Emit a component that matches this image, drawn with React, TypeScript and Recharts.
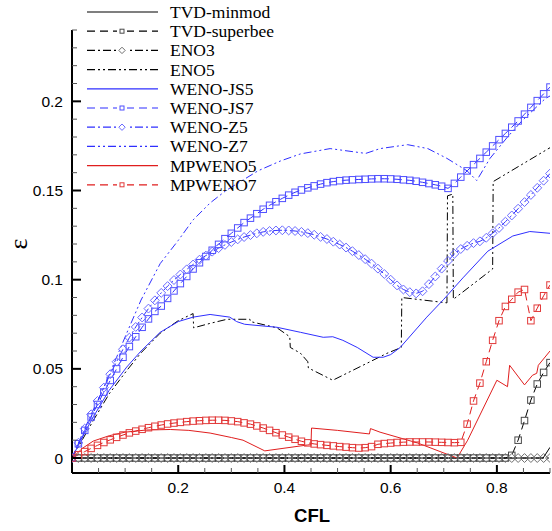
import React from 'react';
import { LineChart, Line, XAxis, YAxis, Legend, Label } from 'recharts';

// CFL grid used by the series drawn with symbols (step 0.012)
const cflGrid = [
  0, 0.012, 0.024, 0.036, 0.048, 0.06, 0.072, 0.084, 0.096, 0.108,
  0.12, 0.132, 0.144, 0.156, 0.168, 0.18, 0.192, 0.204, 0.216, 0.228,
  0.24, 0.252, 0.264, 0.276, 0.288, 0.3, 0.312, 0.324, 0.336, 0.348,
  0.36, 0.372, 0.384, 0.396, 0.408, 0.42, 0.432, 0.444, 0.456, 0.468,
  0.48, 0.492, 0.504, 0.516, 0.528, 0.54, 0.552, 0.564, 0.576, 0.588,
  0.6, 0.612, 0.624, 0.636, 0.648, 0.66, 0.672, 0.684, 0.696, 0.708,
  0.72, 0.732, 0.744, 0.756, 0.768, 0.78, 0.792, 0.804, 0.816, 0.828,
  0.84, 0.852, 0.864, 0.876, 0.888, 0.9,
];

const tvdSuperbee = [
  0, 0, 0, 0, 0, 0, 0, 0, 0, 0,
  0, 0, 0, 0, 0, 0, 0, 0, 0, 0,
  0, 0, 0, 0, 0, 0, 0, 0, 0, 0,
  0, 0, 0, 0, 0, 0, 0, 0, 0, 0,
  0, 0, 0, 0, 0, 0, 0, 0, 0, 0,
  0, 0, 0, 0, 0, 0, 0, 0, 0, 0,
  0, 0, 0, 0, 0, 0, 0, 0, 0, 0.0015,
  0.01, 0.021, 0.0325, 0.0415, 0.048, 0.0535,
];

const eno3 = [
  0, 0, 0, 0, 0, 0, 0, 0, 0, 0,
  0, 0, 0, 0, 0, 0, 0, 0, 0, 0,
  0, 0, 0, 0, 0, 0, 0, 0, 0, 0,
  0, 0, 0, 0, 0, 0, 0, 0, 0, 0,
  0, 0, 0, 0, 0, 0, 0, 0, 0, 0,
  0, 0, 0, 0, 0, 0, 0, 0, 0, 0,
  0, 0, 0, 0, 0, 0, 0, 0, 0, 0,
  0, 0, 0, 0, 0, 0,
];

const wenoJs7 = [
  0, 0.008, 0.0155, 0.023, 0.03, 0.037, 0.0435, 0.05, 0.0565, 0.0625,
  0.068, 0.0733, 0.078, 0.0822, 0.0852, 0.0895, 0.0937, 0.0978, 0.1018, 0.106,
  0.1095, 0.113, 0.1165, 0.1198, 0.123, 0.126, 0.129, 0.132, 0.1345, 0.137,
  0.1395, 0.1417, 0.1437, 0.1456, 0.1474, 0.149, 0.1503, 0.1515, 0.1526, 0.1536,
  0.1544, 0.155, 0.1555, 0.1558, 0.156, 0.1562, 0.1563, 0.1565, 0.1566, 0.1566,
  0.1565, 0.1563, 0.156, 0.1557, 0.1552, 0.1546, 0.1539, 0.1532, 0.1524, 0.1512,
  0.154, 0.1575, 0.161, 0.1645, 0.168, 0.1715, 0.175, 0.1785, 0.182, 0.1855,
  0.189, 0.1928, 0.1966, 0.2004, 0.2042, 0.208,
];

const wenoZ5 = [
  0, 0.0085, 0.0165, 0.0245, 0.032, 0.0395, 0.047, 0.054, 0.061, 0.0675,
  0.0735, 0.0788, 0.0838, 0.0884, 0.0926, 0.0964, 0.0998, 0.1029, 0.1058, 0.1085,
  0.1112, 0.1135, 0.1157, 0.1177, 0.1195, 0.1211, 0.1226, 0.1239, 0.125, 0.126,
  0.1268, 0.1273, 0.1276, 0.1277, 0.1276, 0.1273, 0.1268, 0.1261, 0.1252, 0.124,
  0.1228, 0.1213, 0.1197, 0.118, 0.116, 0.1138, 0.1115, 0.109, 0.1062, 0.1032,
  0.1, 0.0968, 0.0945, 0.093, 0.0923, 0.0935, 0.0975, 0.1018, 0.1062, 0.1105,
  0.1145, 0.1172, 0.119, 0.1205, 0.1215, 0.1235, 0.126, 0.129, 0.1325, 0.136,
  0.1398, 0.1435, 0.1475, 0.1515, 0.1555, 0.1595,
];

const mpWeno7 = [
  0, 0.0018, 0.0036, 0.0054, 0.0071, 0.0087, 0.0102, 0.0116, 0.0129, 0.0141,
  0.0151, 0.0161, 0.017, 0.0178, 0.0185, 0.0191, 0.0196, 0.02, 0.0204, 0.0207,
  0.0209, 0.0211, 0.0212, 0.0212, 0.0211, 0.0208, 0.0204, 0.0197, 0.019, 0.018,
  0.0168, 0.0155, 0.0142, 0.0129, 0.0117, 0.0105, 0.0094, 0.0085, 0.0079, 0.0075,
  0.0071, 0.0068, 0.0064, 0.0061, 0.0058, 0.0056, 0.0058, 0.0064, 0.0077, 0.0081,
  0.0084, 0.0087, 0.0089, 0.009, 0.009, 0.009, 0.009, 0.0089, 0.0088, 0.0087,
  0.0086, 0.0088, 0.019, 0.032, 0.042, 0.054, 0.066, 0.077, 0.085, 0.089,
  0.093, 0.0945, 0.077, 0.084, 0.091, 0.097,
];

// series drawn as plain lines, read at their own breakpoints
const tvdMinmodCfl = [0, 0.887, 0.9];
const tvdMinmodEps = [0, 0, 0.006];

const eno5Cfl = [
  0, 0.02, 0.04, 0.07, 0.103, 0.13, 0.166, 0.2, 0.228, 0.229, 0.26, 0.292,
  0.335, 0.336, 0.386, 0.41, 0.411, 0.43, 0.444, 0.445, 0.491, 0.593, 0.62,
  0.621, 0.706, 0.707, 0.717, 0.718, 0.792, 0.793, 0.9,
];
const eno5Eps = [
  0, 0.0105, 0.021, 0.036, 0.049, 0.059, 0.07, 0.077, 0.081, 0.073, 0.0755, 0.0778,
  0.0778, 0.0765, 0.073, 0.068, 0.062, 0.0588, 0.054, 0.0505, 0.0436, 0.0587, 0.062,
  0.09, 0.087, 0.147, 0.148, 0.089, 0.106, 0.155, 0.174,
];

const wenoJs5Cfl = [
  0, 0.02, 0.04, 0.07, 0.103, 0.13, 0.166, 0.2, 0.228, 0.26, 0.297, 0.31, 0.325,
  0.386, 0.43, 0.473, 0.491, 0.51, 0.537, 0.567, 0.586, 0.6, 0.618, 0.668, 0.7,
  0.736, 0.783, 0.83, 0.862, 0.9,
];
const wenoJs5Eps = [
  0, 0.012, 0.023, 0.038, 0.051, 0.06, 0.0705, 0.0765, 0.079, 0.0805, 0.079, 0.0765, 0.075,
  0.0733, 0.0705, 0.0677, 0.068, 0.066, 0.062, 0.0565, 0.0565, 0.058, 0.062, 0.079, 0.089,
  0.101, 0.116, 0.1245, 0.127, 0.126,
];

const wenoZ7Cfl = [
  0, 0.02, 0.04, 0.072, 0.103, 0.13, 0.166, 0.2, 0.228, 0.26, 0.29, 0.32, 0.35,
  0.392, 0.43, 0.486, 0.553, 0.58, 0.632, 0.67, 0.706, 0.744, 0.762, 0.787, 0.82,
  0.847, 0.891, 0.9,
];
const wenoZ7Eps = [
  0, 0.012, 0.026, 0.048, 0.07, 0.0886, 0.109, 0.122, 0.1335, 0.143, 0.15, 0.1555, 0.161,
  0.1665, 0.1705, 0.1735, 0.1708, 0.1735, 0.1757, 0.1735, 0.168, 0.161, 0.1556, 0.168, 0.18,
  0.189, 0.2015, 0.203,
];

const mpWeno5Cfl = [
  0, 0.02, 0.04, 0.07, 0.1, 0.14, 0.185, 0.22, 0.26, 0.3, 0.322, 0.363, 0.443, 0.45,
  0.451, 0.5, 0.56, 0.562, 0.58, 0.651, 0.725, 0.745, 0.8, 0.82, 0.824, 0.852, 0.867,
  0.875, 0.878, 0.9,
];
const mpWeno5Eps = [
  0, 0.0055, 0.0095, 0.0125, 0.0145, 0.0157, 0.016, 0.0155, 0.014, 0.0115, 0.01, 0.004, 0.0073, 0.0075,
  0.0168, 0.0155, 0.0135, 0.0165, 0.0145, 0.0084, 0, 0.01, 0.0436, 0.04, 0.052, 0.041, 0.0464,
  0.0475, 0.052, 0.06,
];

const xTicks = [0, 0.05, 0.1, 0.15, 0.2, 0.25, 0.3, 0.35, 0.4, 0.45, 0.5, 0.55, 0.6, 0.65, 0.7, 0.75, 0.8, 0.85, 0.9];
const xLabelTicks = [0.2, 0.4, 0.6, 0.8];
const yTicks = [
  0, 0.01, 0.02, 0.03, 0.04, 0.05, 0.06, 0.07, 0.08, 0.09, 0.1, 0.11, 0.12,
  0.13, 0.14, 0.15, 0.16, 0.17, 0.18, 0.19, 0.2, 0.21, 0.22, 0.23, 0.24,
];
const yLabelTicks = [0, 0.05, 0.1, 0.15, 0.2];

const zipRows = (cfl: number[], eps: number[]) => cfl.map((c, i) => ({ cfl: c, eps: eps[i] }));

const BLACK = '#000000';
const BLUE = '#2f2fff';
const RED = '#e01e1e';
const DASH = '8 5';
const DASH_DOT = '8 3 2 3';
const DASH_DOT_DOT = '8 3 2 3 2 3';

type Marker = 'square' | 'diamond' | null;

const SERIES: { name: string; color: string; dash?: string; marker: Marker; markerColor: string; rows: any[] }[] = [
  { name: 'TVD-minmod', color: BLACK, marker: null, markerColor: BLACK, rows: zipRows(tvdMinmodCfl, tvdMinmodEps) },
  { name: 'TVD-superbee', color: BLACK, dash: DASH, marker: 'square', markerColor: '#4a4a4a', rows: zipRows(cflGrid, tvdSuperbee) },
  { name: 'ENO3', color: BLACK, dash: DASH_DOT, marker: 'diamond', markerColor: '#6e6e6e', rows: zipRows(cflGrid, eno3) },
  { name: 'ENO5', color: BLACK, dash: DASH_DOT_DOT, marker: null, markerColor: BLACK, rows: zipRows(eno5Cfl, eno5Eps) },
  { name: 'WENO-JS5', color: BLUE, marker: null, markerColor: BLUE, rows: zipRows(wenoJs5Cfl, wenoJs5Eps) },
  { name: 'WENO-JS7', color: BLUE, dash: DASH, marker: 'square', markerColor: '#4f4fff', rows: zipRows(cflGrid, wenoJs7) },
  { name: 'WENO-Z5', color: BLUE, dash: DASH_DOT, marker: 'diamond', markerColor: '#6a6aff', rows: zipRows(cflGrid, wenoZ5) },
  { name: 'WENO-Z7', color: BLUE, dash: DASH_DOT_DOT, marker: null, markerColor: BLUE, rows: zipRows(wenoZ7Cfl, wenoZ7Eps) },
  { name: 'MPWENO5', color: RED, marker: null, markerColor: RED, rows: zipRows(mpWeno5Cfl, mpWeno5Eps) },
  { name: 'MPWENO7', color: RED, dash: DASH, marker: 'square', markerColor: '#e23a3a', rows: zipRows(cflGrid, mpWeno7) },
];

const shape = (kind: Marker, cx: number, cy: number, color: string, size: number, key?: any) => {
  const h = size / 2;
  if (kind === 'square') {
    return <rect key={key} x={cx - h} y={cy - h} width={size} height={size} fill="none" stroke={color} strokeWidth={1} />;
  }
  const d = h + 1.2;
  return (
    <polygon
      key={key}
      points={`${cx},${cy - d} ${cx + d},${cy} ${cx},${cy + d} ${cx - d},${cy}`}
      fill="none"
      stroke={color}
      strokeWidth={1}
    />
  );
};

const dotRenderer = (kind: Marker, color: string) => (p: any) => {
  if (p.cx == null || p.cy == null) return <g key={p.index} />;
  return shape(kind, p.cx, p.cy, color, 6.5, p.index);
};

const LegendBox = () => (
  <svg width={300} height={200}>
    {SERIES.map((s, i) => {
      const y = 12 + i * 19.2;
      return (
        <g key={s.name}>
          <line x1={87} x2={158} y1={y} y2={y} stroke={s.color} strokeWidth={1.2} strokeDasharray={s.dash} />
          {s.marker && <rect x={117} y={y - 4} width={10} height={8} fill="#fff" />}
          {s.marker && shape(s.marker, 122, y, s.markerColor, 4)}
          <text x={170} y={y + 6} fontFamily="'Liberation Serif', serif" fontSize={17.5} fill="#000">
            {s.name}
          </text>
        </g>
      );
    })}
  </svg>
);

const near = (v: number, list: number[]) => list.some((t) => Math.abs(t - v) < 1e-9);

const YTick = (props: any) => {
  const { x, y, payload } = props;
  const v = payload.value;
  const major = near(v, yLabelTicks);
  return (
    <g>
      <line x1={x} x2={x + (major ? 9 : 5)} y1={y} y2={y} stroke={major ? '#000' : '#555'} strokeWidth={major ? 2 : 1} />
      {major && (
        <text x={x - 9} y={y + 5.5} textAnchor="end" fontFamily="'Liberation Sans', Arial, sans-serif" fontSize={15.5} fill="#000">
          {String(v)}
        </text>
      )}
    </g>
  );
};

const XTick = (props: any) => {
  const { x, y, payload } = props;
  const v = payload.value;
  const labelled = near(v, xLabelTicks);
  const major = labelled || v === 0;
  return (
    <g>
      <line x1={x} x2={x} y1={y} y2={y - (major ? 8 : 5)} stroke={major ? '#000' : '#555'} strokeWidth={major ? 2 : 1} />
      {labelled && (
        <text x={x} y={y + 20} textAnchor="middle" fontFamily="'Liberation Sans', Arial, sans-serif" fontSize={15.5} fill="#000">
          {String(v)}
        </text>
      )}
    </g>
  );
};

export default function App() {
  return (
    <div style={{ position: 'absolute', left: 0, top: 0, width: 552, height: 531, background: '#fff' }}>
      <LineChart width={552} height={531} margin={{ top: 30, right: 2, bottom: 0, left: 12 }}>
        <XAxis
          type="number"
          dataKey="cfl"
          domain={[0, 0.9]}
          allowDataOverflow
          ticks={xTicks}
          interval={0}
          height={58}
          tickSize={0}
          tickMargin={0}
          tickLine={false}
          tick={XTick}
          axisLine={{ stroke: '#000', strokeWidth: 2 }}
          label={
            <Label
              content={() => (
                <text x={312} y={522} textAnchor="middle" fontFamily="'Liberation Sans', Arial, sans-serif" fontWeight="bold" fontSize={18.5} fill="#000">
                  CFL
                </text>
              )}
            />
          }
        />
        <YAxis
          type="number"
          domain={[-0.0084, 0.24]}
          allowDataOverflow
          ticks={yTicks}
          interval={0}
          width={60}
          tickSize={0}
          tickMargin={0}
          tickLine={false}
          tick={YTick}
          axisLine={{ stroke: '#000', strokeWidth: 2 }}
          label={
            <Label
              content={() => (
                <text
                  x={18}
                  y={244}
                  transform="rotate(-90 18 244)"
                  textAnchor="middle"
                  dominantBaseline="central"
                  fontFamily="'Liberation Serif', serif"
                  fontSize={26}
                  fill="#000"
                >
                  ε
                </text>
              )}
            />
          }
        />
        <Legend
          layout="vertical"
          align="center"
          verticalAlign="middle"
          wrapperStyle={{ left: 0, top: 0, width: 300, height: 200 }}
          content={<LegendBox />}
        />
        {SERIES.map((s) => (
          <Line
            key={s.name}
            name={s.name}
            data={s.rows}
            dataKey="eps"
            type="linear"
            stroke={s.color}
            strokeWidth={1}
            strokeDasharray={s.dash}
            dot={s.marker ? dotRenderer(s.marker, s.markerColor) : false}
            activeDot={false}
            isAnimationActive={false}
          />
        ))}
      </LineChart>
    </div>
  );
}
